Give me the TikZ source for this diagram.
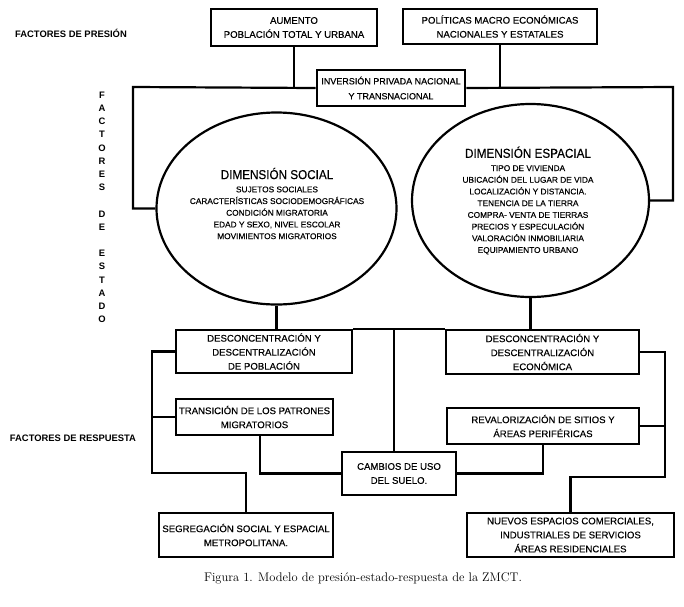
\documentclass[tikz,border=0pt]{standalone}
\usepackage{fontspec}
\setsansfont{Liberation Sans}
\newfontfamily\diafont{Liberation Sans}[FakeBold=0.3]
\newfontfamily\titlefont{Liberation Sans}[FakeStretch=0.9,FakeBold=0.3]
\usetikzlibrary{shapes.geometric}

\begin{document}
\begin{tikzpicture}[x=1pt,y=-1pt,
    box/.style={draw,line width=2.6pt,fill=white,inner sep=0pt,align=center,font=\diafont\fontsize{9.6}{14}\selectfont},
    circ/.style={ellipse,draw,line width=2.2pt,inner sep=0pt},
    circtext/.style={inner sep=0pt,align=center,font=\diafont\fontsize{8.3}{11.7}\selectfont},
    sidelabel/.style={inner sep=0pt,font=\sffamily\bfseries\fontsize{9.4}{11}\selectfont},
    link/.style={line width=2.2pt}]
    \useasboundingbox (0,0) rectangle (684,606);

    % Side labels
    \node[sidelabel] (pres) at (71,33) {FACTORES DE PRESIÓN};
    \node[sidelabel] (resp) at (73,438) {FACTORES DE RESPUESTA};
    \foreach \ch [count=\i from 0] in {F,A,C,T,O,R,E,S,{},D,E,{},E,S,T,A,D,O}
        \node[sidelabel] (v\i) at (102,95+13.2*\i) {\ch};

    % Pressure boxes
    \node[box,minimum width=166pt,minimum height=37pt] (aum) at (294,27.5) {AUMENTO\\POBLACIÓN TOTAL Y URBANA};
    \node[box,minimum width=194pt,minimum height=35pt] (pol) at (500,26.5) {POLÍTICAS MACRO ECONÓMICAS\\NACIONALES Y ESTATALES};
    \node[box,minimum width=148pt,minimum height=36pt,font=\diafont\fontsize{9}{15}\selectfont] (inv) at (391,88) {INVERSIÓN PRIVADA NACIONAL\\Y TRANSNACIONAL};

    % State dimensions
    \node[circ,minimum width=240pt,minimum height=192pt] (soc) at (276.5,208.5) {};
    \node[circtext] (soctxt) at (277,203.5) {{\titlefont\fontsize{13}{14}\selectfont DIMENSIÓN SOCIAL}\\[1.5pt]
        SUJETOS SOCIALES\\CARACTERÍSTICAS SOCIODEMOGRÁFICAS\\CONDICIÓN MIGRATORIA\\
        EDAD Y SEXO, NIVEL ESCOLAR\\MOVIMIENTOS MIGRATORIOS};
    \node[circ,minimum width=237pt,minimum height=193pt] (esp) at (530.5,200.5) {};
    \node[circtext] (esptxt) at (528,200.5) {{\titlefont\fontsize{13}{14}\selectfont DIMENSIÓN ESPACIAL}\\[1.5pt]
        TIPO DE VIVIENDA\\UBICACIÓN DEL LUGAR DE VIDA\\LOCALIZACIÓN Y DISTANCIA.\\
        TENENCIA DE LA TIERRA\\COMPRA- VENTA DE TIERRAS\\PRECIOS Y ESPECULACIÓN\\
        VALORACIÓN INMOBILIARIA\\EQUIPAMIENTO URBANO};

    % Response boxes
    \node[box,minimum width=176pt,minimum height=43pt] (dpo) at (264,351.5) {DESCONCENTRACIÓN Y\\DESCENTRALIZACIÓN\\DE POBLACIÓN};
    \node[box,minimum width=193pt,minimum height=44pt] (dec) at (542.5,352) {DESCONCENTRACIÓN Y\\DESCENTRALIZACIÓN\\ECONÓMICA};
    \node[box,minimum width=157pt,minimum height=36pt] (tra) at (254.5,417) {TRANSICIÓN DE LOS PATRONES\\MIGRATORIOS};
    \node[box,minimum width=192pt,minimum height=36pt] (rev) at (543,426) {REVALORIZACIÓN DE SITIOS Y\\ÁREAS PERIFÉRICAS};
    \node[box,minimum width=114pt,minimum height=43pt] (cam) at (399,473.5) {CAMBIOS DE USO\\DEL SUELO.};
    \node[box,minimum width=174pt,minimum height=44pt] (seg) at (246,535) {SEGREGACIÓN SOCIAL Y ESPACIAL\\METROPOLITANA.};
    \node[box,minimum width=207pt,minimum height=44pt] (nue) at (570.5,535) {NUEVOS ESPACIOS COMERCIALES,\\INDUSTRIALES DE SERVICIOS\\ÁREAS RESIDENCIALES};

    % Caption
    \node (cap) at (363,578) {\fontsize{12.5}{15}\selectfont Figura 1. Modelo de presión-estado-respuesta de la ZMCT.};

    % Connectors
    \coordinate (tl) at (133,87);
    \coordinate (tr) at (673,87);
    \coordinate (mid) at (394,330);
    \coordinate (lt) at (152,473);
    \coordinate (rt) at (665,477);
    \draw[link] (aum.south) -- (aum.south |- tl);
    \draw[link] (pol.south) -- (pol.south |- tr);
    \draw[link] (inv.west) -- (tl) |- (soc.west);
    \draw[link] (inv.east) -- (tr) |- (esp.east);
    \draw[link] (soc.south) -- (soc.south |- dpo.north);
    \draw[link] (esp.south) -- (esp.south |- dec.north);
    \draw[link] (dpo.north east) -- (dec.north west);
    \draw[link] (mid) -- (mid |- cam.north);
    \draw[link] (dpo.west) -| (lt) -| (seg.north);
    \draw[link] (tra.west) -- (tra.west -| lt);
    \draw[link] ([xshift=5.5pt]tra.south) |- (cam.west);
    \draw[link] (dec.east) -| (rt) -| (nue.north);
    \draw[link] (rev.east) -- (rev.east -| rt);
    \draw[link] (rev.south) |- (cam.east);
\end{tikzpicture}
\end{document}
